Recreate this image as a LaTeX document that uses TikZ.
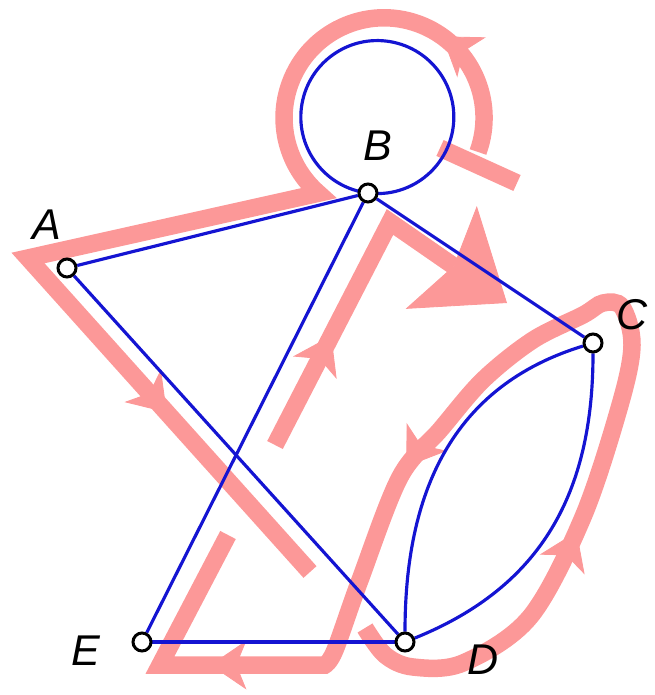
\documentclass[tikz,border=0pt]{standalone}
\usepackage{fontspec}
\setsansfont{Liberation Sans}
\usetikzlibrary{arrows.meta,decorations.markings,backgrounds}
\definecolor{tourpink}{RGB}{252,152,152}
\definecolor{edgeblue}{RGB}{20,20,210}
\tikzset{
  vertex/.style={circle, draw=black, fill=white, line width=1.7pt, minimum size=0.36cm, inner sep=0pt},
  edge/.style={edgeblue, line width=1.8pt},
  tour/.style={tourpink, line width=0.35cm},
  lbl/.style={font=\fontsize{24.5}{28}\selectfont\sffamily\itshape, inner sep=0pt},
}
\begin{document}
\begin{tikzpicture}[x=0.02cm, y=0.02cm,
    >={Stealth[length=0.72cm, width=0.98cm, inset=0.2cm, line width=0.5pt]}]
  \useasboundingbox (0,0) rectangle (654,-695);
  % Vertices
  \node[vertex] (A) at (67,-268) {};
  \node[vertex] (B) at (368,-193) {};
  \node[vertex] (C) at (593,-343) {};
  \node[vertex] (D) at (405,-642) {};
  \node[vertex] (E) at (142,-642) {};
  % Labels
  \node[lbl] (la) at (47,-225) {A};
  \node[lbl] (lb) at (378,-146) {B};
  \node[lbl] (lc) at (632,-315) {C};
  \node[lbl] (ld) at (483,-660) {D};
  \node[lbl] (le) at (86,-651) {E};
  \begin{scope}[on background layer]
    % Euler path (pink), gaps where it passes under itself
    \draw[tour] (440,-148) -- (517,-183);
    \draw[tour, postaction={decorate}, decoration={markings,
        mark=at position 2.6cm with {\arrow{>}},
        mark=at position 18.8cm with {\arrow{>}}}]
      (478,-152) arc[start angle=-20, end angle=229, radius=100]
      -- (28,-258) -- (310,-572);
    \draw[tour, postaction={decorate}, decoration={markings,
        mark=at position 5.9cm with {\arrow{>}},
        mark=at position 16.2cm with {\arrow{>}},
        mark=at position 22.8cm with {\arrow{>}}}]
      plot[smooth, tension=0.55] coordinates {(365,-628) (385,-655) (413,-667)
        (463,-663) (530,-617) (583,-517) (620,-405) (632,-345) (622,-307)
        (603,-303) (583,-315) (533,-340) (483,-380) (440,-430) (400,-477)
        (360,-580) (335,-650) (325,-665)}
      -- (160,-665) -- (228,-535);
    \draw[tour, postaction={decorate}, decoration={markings,
        mark=at position 2.46cm with {\arrow{>}}},
        -{Stealth[length=1.6cm, width=2.5cm, inset=0.3cm, line width=0.5pt]}]
      (275,-445) -- (390,-222) -- (507,-303);
    % Graph edges
    \draw[edge] (A) -- (B);
    \draw[edge] (A) -- (D);
    \draw[edge] (B) -- (C);
    \draw[edge] (B) -- (E);
    \draw[edge] (E) -- (D);
    \draw[edge] (C) to[out=197, in=90, looseness=1.05] (D);
    \draw[edge] (D) to[out=22, in=270, looseness=1.05] (C);
    \draw[edge] (B.center) arc[start angle=-97, delta angle=360, radius=76.5];
  \end{scope}
\end{tikzpicture}
\end{document}
